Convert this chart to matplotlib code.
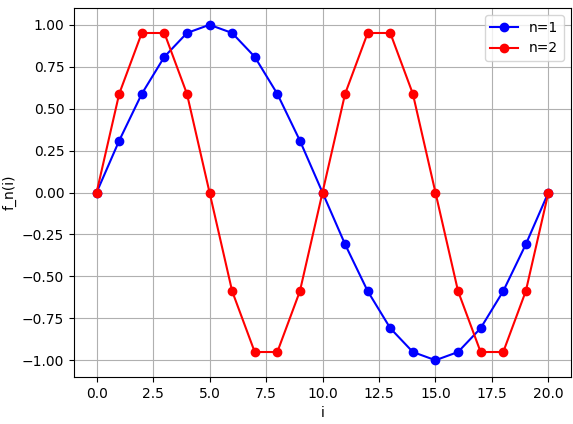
import numpy as np
import matplotlib
matplotlib.use("Agg")
import matplotlib.pyplot as plt

# values
i_vals = list(range(21))
f_n1 = [0.0, 0.309, 0.588, 0.809, 0.951, 1.0, 0.951, 0.809, 0.588, 0.309, 0.0,
        -0.309, -0.588, -0.809, -0.951, -1.0, -0.951, -0.809, -0.588, -0.309, 0.0]
f_n2 = [0.0, 0.588, 0.951, 0.951, 0.588, 0.0, -0.588, -0.951, -0.951, -0.588, 0.0,
        0.588, 0.951, 0.951, 0.588, 0.0, -0.588, -0.951, -0.951, -0.588, 0.0]

fig = plt.figure(figsize=(5.73, 4.24), dpi=100)
ax = fig.add_axes([74/573, 1 - 377/424, (571 - 74)/573, (377 - 8)/424])

ax.plot(i_vals, f_n1, "o-", color="blue", label="n=1")
ax.plot(i_vals, f_n2, "o-", color="red", label="n=2")

ax.set_xlabel("i")
ax.set_ylabel("f_n(i)")
ax.grid(True)
ax.legend(loc="upper right")

fig.savefig("out.png", dpi=100)
